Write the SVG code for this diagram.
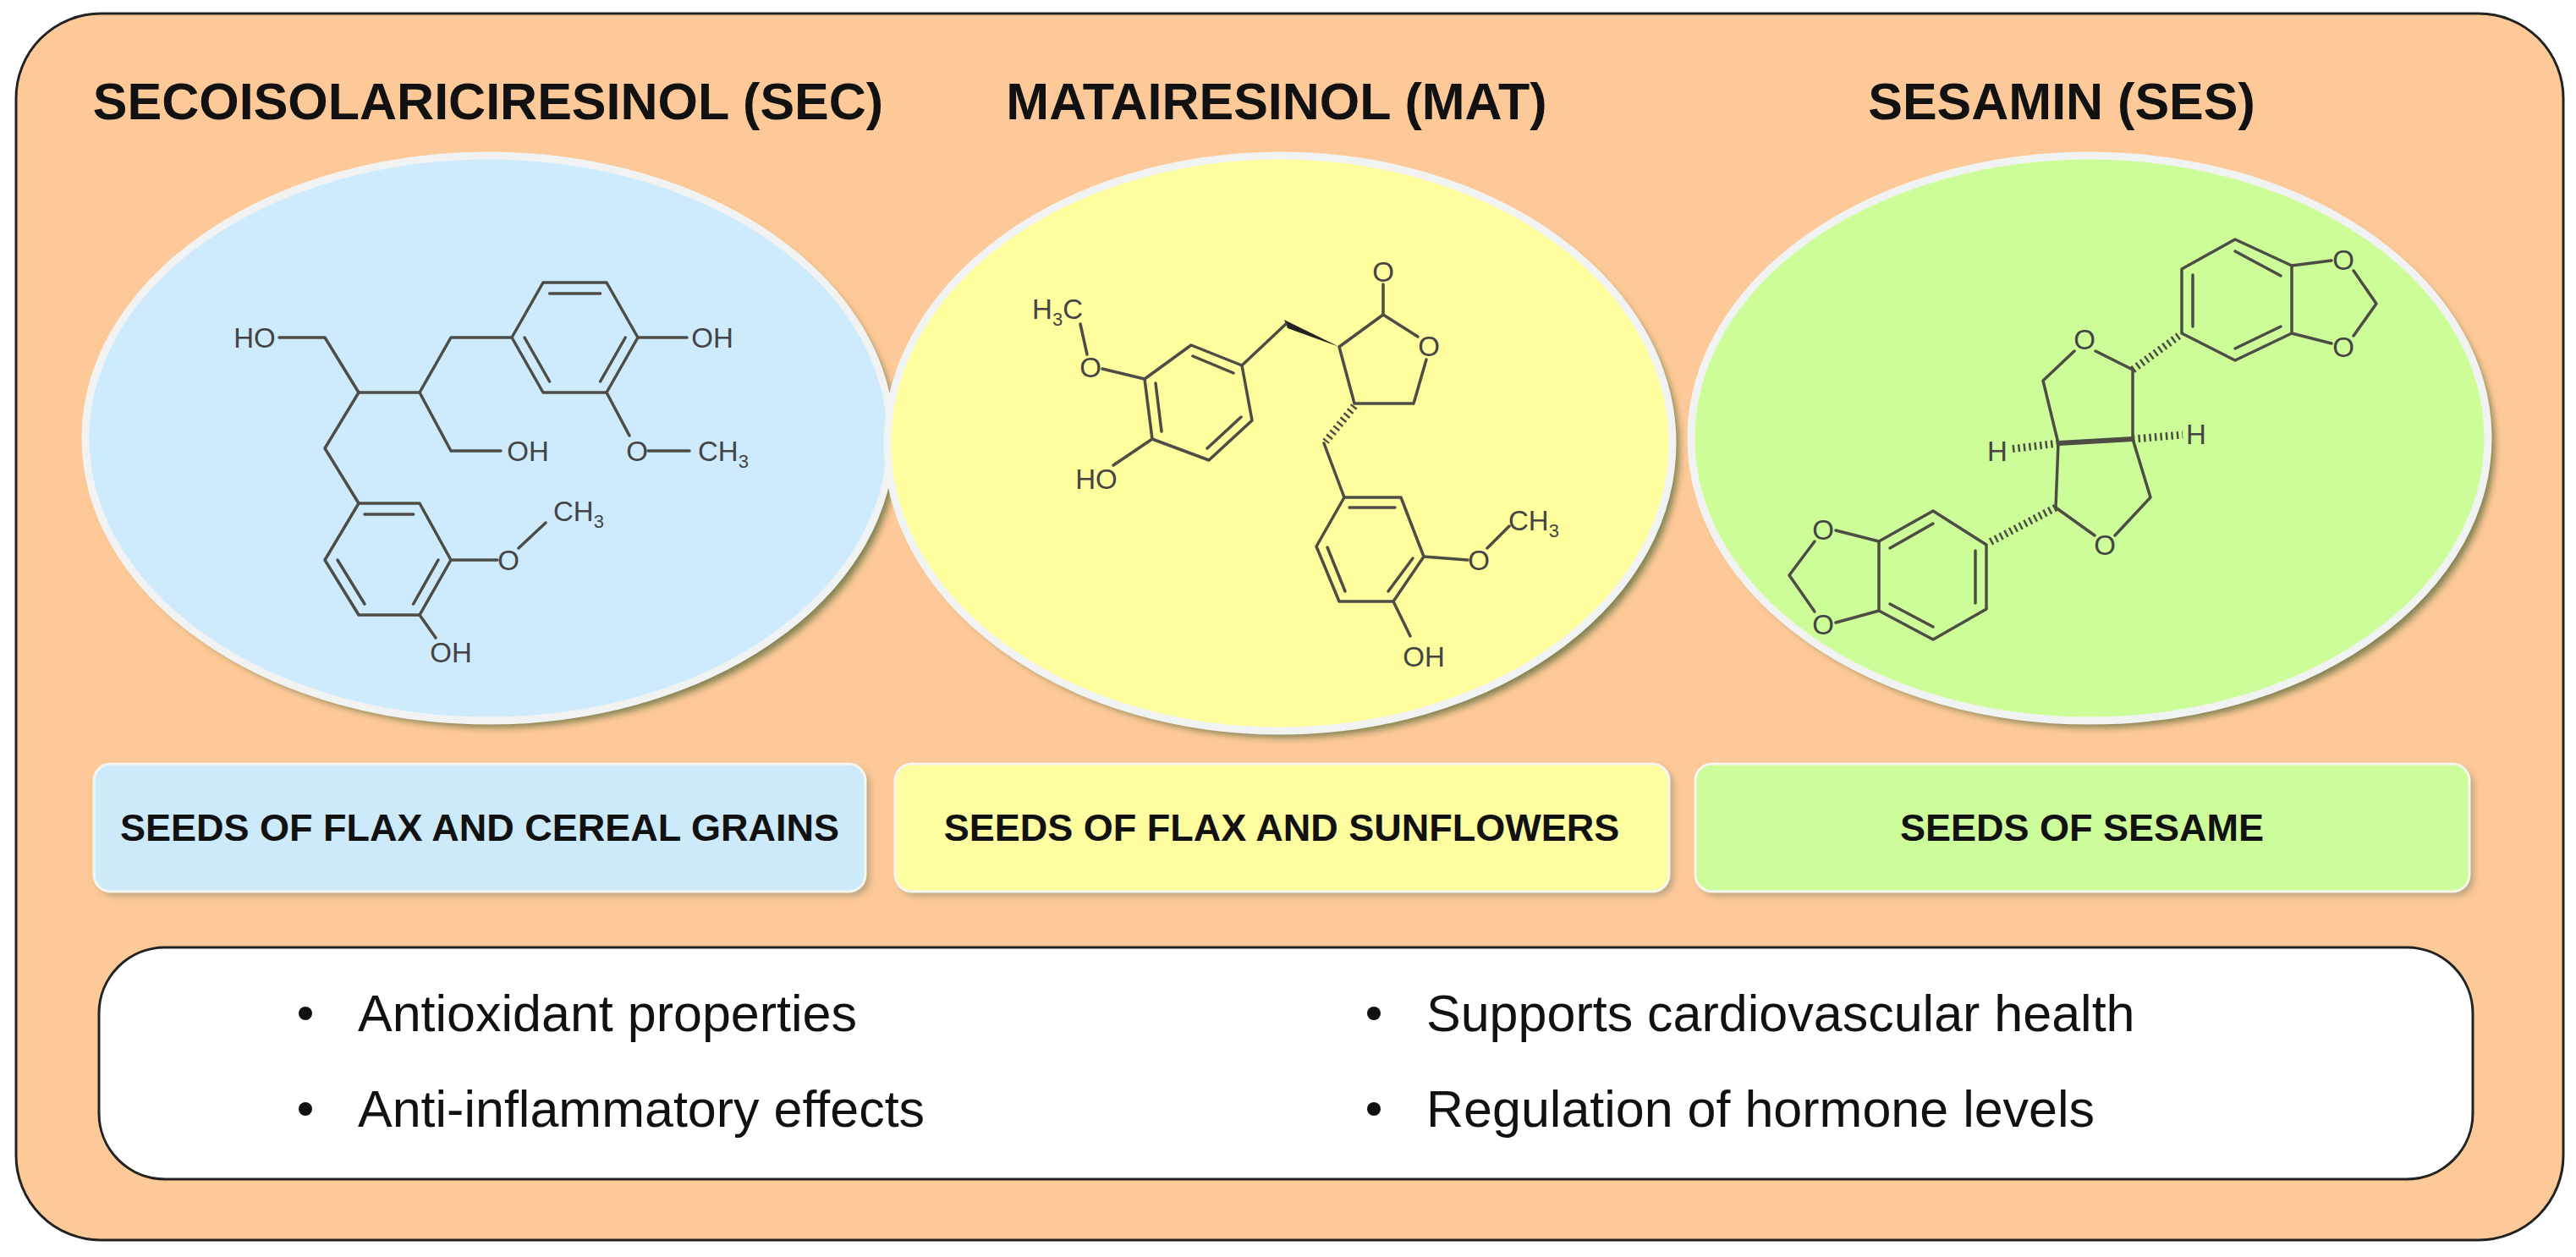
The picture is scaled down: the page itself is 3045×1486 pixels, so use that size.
<svg xmlns="http://www.w3.org/2000/svg" width="3045" height="1486" viewBox="0 0 3045 1486">
<defs>
<filter id="sh" x="-10%" y="-10%" width="120%" height="120%"><feGaussianBlur stdDeviation="4"/></filter>
</defs>
<style>
.title{font-family:"Liberation Sans",Arial,sans-serif;font-weight:bold;font-size:61px;fill:#111;text-anchor:middle}
.src{font-family:"Liberation Sans",Arial,sans-serif;font-weight:bold;font-size:45px;fill:#111;text-anchor:middle}
.bul{font-family:"Liberation Sans",Arial,sans-serif;font-size:61px;fill:#111}
.lab{font-family:"Liberation Sans",Arial,sans-serif;font-size:33px;fill:#444;text-anchor:middle}
.sub{font-size:22px}
.b{fill:none;stroke:#4d4d45;stroke-width:3.5;stroke-linejoin:round;stroke-linecap:round}
.hash{fill:none;stroke:#4d4d45;stroke-width:9;stroke-dasharray:2.5 4}
.ell{stroke:#f1f2f2;stroke-width:9}
.box{stroke:#f6f6f0;stroke-width:3}
</style>
<rect x="19" y="16" width="3011" height="1450" rx="100" fill="#fec998" stroke="#222" stroke-width="3"/>
<text class="title" x="577" y="141">SECOISOLARICIRESINOL (SEC)</text>
<text class="title" x="1509" y="141">MATAIRESINOL (MAT)</text>
<text class="title" x="2437" y="141">SESAMIN (SES)</text>

<g id="sec">
<ellipse cx="585" cy="526" rx="476" ry="334" fill="#7d8050" filter="url(#sh)"/>
<ellipse class="ell" cx="577" cy="518" rx="476" ry="334" fill="#cdebfd"/>
<polyline class="b" points="330,399 384,399 424,464 496,464 533,399 605,399"/>
<polygon class="b" points="605,399 642,334 717,334 754,399 717,464 642,464"/>
<line class="b" x1="649.6" y1="347" x2="709.6" y2="347"/>
<line class="b" x1="739.2" y1="399" x2="709.6" y2="451"/>
<line class="b" x1="649.6" y1="451" x2="620" y2="399"/>
<line class="b" x1="754" y1="399" x2="812" y2="399"/>
<line class="b" x1="717" y1="464" x2="744" y2="515"/>
<line class="b" x1="766" y1="533" x2="815" y2="533"/>
<polyline class="b" points="496,464 533,533 592,533"/>
<polyline class="b" points="424,464 384,530 424,595"/>
<polygon class="b" points="424,595 496,595 533,662 496,727 424,727 384,662"/>
<line class="b" x1="431" y1="608" x2="488.6" y2="608"/>
<line class="b" x1="518" y1="662" x2="488.6" y2="714"/>
<line class="b" x1="431" y1="714" x2="399" y2="662"/>
<line class="b" x1="533" y1="662" x2="588" y2="662"/>
<line class="b" x1="613" y1="648" x2="645" y2="618"/>
<line class="b" x1="496" y1="727" x2="515" y2="754"/>
<text class="lab" x="301" y="411">HO</text>
<text class="lab" x="842" y="411">OH</text>
<text class="lab" x="753" y="545">O</text>
<text class="lab" x="855" y="545">CH<tspan class="sub" dy="8">3</tspan></text>
<text class="lab" x="624" y="545">OH</text>
<text class="lab" x="601" y="674">O</text>
<text class="lab" x="684" y="616">CH<tspan class="sub" dy="8">3</tspan></text>
<text class="lab" x="533" y="783">OH</text>
</g>

<g id="mat">
<ellipse cx="1521" cy="532" rx="464" ry="340" fill="#7d8050" filter="url(#sh)"/>
<ellipse class="ell" cx="1513" cy="524" rx="464" ry="340" fill="#fefe9e"/>
<line class="b" x1="1635" y1="372" x2="1635" y2="336"/>
<polyline class="b" points="1676,398 1635,372 1583,410 1601,477 1671,477 1686,425"/>
<polygon fill="#222" points="1583,410 1518,378 1522,388"/>
<polyline class="b" points="1520,383 1468,432"/>
<polygon class="b" points="1468,432 1408,408 1353,448 1362,519 1429,544 1480,497"/>
<line class="b" x1="1458" y1="441" x2="1410" y2="421"/>
<line class="b" x1="1366" y1="453" x2="1373" y2="510"/>
<line class="b" x1="1427" y1="530" x2="1467" y2="493"/>
<line class="b" x1="1353" y1="448" x2="1303" y2="436"/>
<line class="b" x1="1285" y1="419" x2="1277" y2="383"/>
<line class="b" x1="1362" y1="519" x2="1316" y2="550"/>
<line class="hash" x1="1601" y1="480" x2="1567" y2="522"/>
<line class="b" x1="1565" y1="524" x2="1589" y2="588"/>
<polygon class="b" points="1589,588 1656,588 1683,658 1647,711 1583,711 1556,646"/>
<line class="b" x1="1595" y1="600" x2="1649" y2="600"/>
<line class="b" x1="1670" y1="660" x2="1641" y2="699"/>
<line class="b" x1="1590" y1="699" x2="1569" y2="647"/>
<line class="b" x1="1683" y1="658" x2="1735" y2="662"/>
<line class="b" x1="1758" y1="648" x2="1784" y2="622"/>
<line class="b" x1="1647" y1="711" x2="1667" y2="752"/>
<text class="lab" x="1635" y="333">O</text>
<text class="lab" x="1689" y="421">O</text>
<text class="lab" x="1289" y="446">O</text>
<text class="lab" x="1250" y="377">H<tspan class="sub" dy="8">3</tspan><tspan dy="-8">C</tspan></text>
<text class="lab" x="1296" y="578">HO</text>
<text class="lab" x="1748" y="674">O</text>
<text class="lab" x="1813" y="627">CH<tspan class="sub" dy="8">3</tspan></text>
<text class="lab" x="1683" y="788">OH</text>
</g>

<g id="ses">
<ellipse cx="2478" cy="526" rx="471" ry="334" fill="#7d8050" filter="url(#sh)"/>
<ellipse class="ell" cx="2470" cy="518" rx="471" ry="334" fill="#cdfd99"/>
<polyline class="b" points="2452,415 2415,450 2433,524 2430,600 2476,633"/>
<polyline class="b" points="2477,415 2521,437 2521,519 2542,588 2500,633"/>
<line x1="2433" y1="524" x2="2521" y2="519" stroke="#4d4d45" stroke-width="6"/>
<line class="hash" x1="2521" y1="437" x2="2577" y2="396"/>
<line class="hash" x1="2430" y1="600" x2="2350" y2="642"/>
<line class="hash" x1="2433" y1="524" x2="2376" y2="531"/>
<line class="hash" x1="2521" y1="519" x2="2580" y2="514"/>
<polygon class="b" points="2579,394 2579,318 2642,283 2709,314 2709,394 2642,426"/>
<line class="b" x1="2592" y1="386" x2="2592" y2="325"/>
<line class="b" x1="2642" y1="297" x2="2696" y2="326"/>
<line class="b" x1="2696" y1="386" x2="2642" y2="412"/>
<polyline class="b" points="2709,314 2756,308"/>
<polyline class="b" points="2709,394 2756,406"/>
<polyline class="b" points="2782,320 2809,359 2782,397"/>
<polygon class="b" points="2348,644 2285,604 2221,640 2221,722 2285,756 2348,720"/>
<line class="b" x1="2285" y1="619" x2="2234" y2="648"/>
<line class="b" x1="2335" y1="651" x2="2335" y2="713"/>
<line class="b" x1="2234" y1="714" x2="2285" y2="741"/>
<line class="b" x1="2221" y1="640" x2="2170" y2="627"/>
<line class="b" x1="2221" y1="722" x2="2170" y2="736"/>
<polyline class="b" points="2145,640 2115,680 2145,723"/>
<text class="lab" x="2464" y="413">O</text>
<text class="lab" x="2488" y="656">O</text>
<text class="lab" x="2361" y="545">H</text>
<text class="lab" x="2596" y="525">H</text>
<text class="lab" x="2770" y="319">O</text>
<text class="lab" x="2770" y="422">O</text>
<text class="lab" x="2155" y="638">O</text>
<text class="lab" x="2155" y="750">O</text>
</g>

<g id="src-sec"><rect x="116" y="908" width="912" height="151" rx="20" fill="#8a8a70" opacity="0.6" filter="url(#sh)"/><rect class="box" x="111" y="903" width="912" height="151" rx="20" fill="#cdeafb"/><text class="src" x="567" y="994">SEEDS OF FLAX AND CEREAL GRAINS</text></g>
<g id="src-mat"><rect x="1063" y="908" width="915" height="151" rx="20" fill="#8a8a70" opacity="0.6" filter="url(#sh)"/><rect class="box" x="1058" y="903" width="915" height="151" rx="20" fill="#fefea0"/><text class="src" x="1515" y="994">SEEDS OF FLAX AND SUNFLOWERS</text></g>
<g id="src-ses"><rect x="2009" y="908" width="915" height="151" rx="20" fill="#8a8a70" opacity="0.6" filter="url(#sh)"/><rect class="box" x="2004" y="903" width="915" height="151" rx="20" fill="#cdfd9a"/><text class="src" x="2461" y="994">SEEDS OF SESAME</text></g>

<g id="effects">
<rect x="117" y="1120" width="2806" height="274" rx="78" fill="#fff" stroke="#222" stroke-width="3"/>
<circle cx="361" cy="1198" r="8" fill="#111"/>
<circle cx="361" cy="1311" r="8" fill="#111"/>
<circle cx="1624" cy="1198" r="8" fill="#111"/>
<circle cx="1624" cy="1311" r="8" fill="#111"/>
<text class="bul" x="423" y="1219">Antioxidant properties</text>
<text class="bul" x="423" y="1332">Anti-inflammatory effects</text>
<text class="bul" x="1686" y="1219">Supports cardiovascular health</text>
<text class="bul" x="1686" y="1332">Regulation of hormone levels</text>
</g>
</svg>
